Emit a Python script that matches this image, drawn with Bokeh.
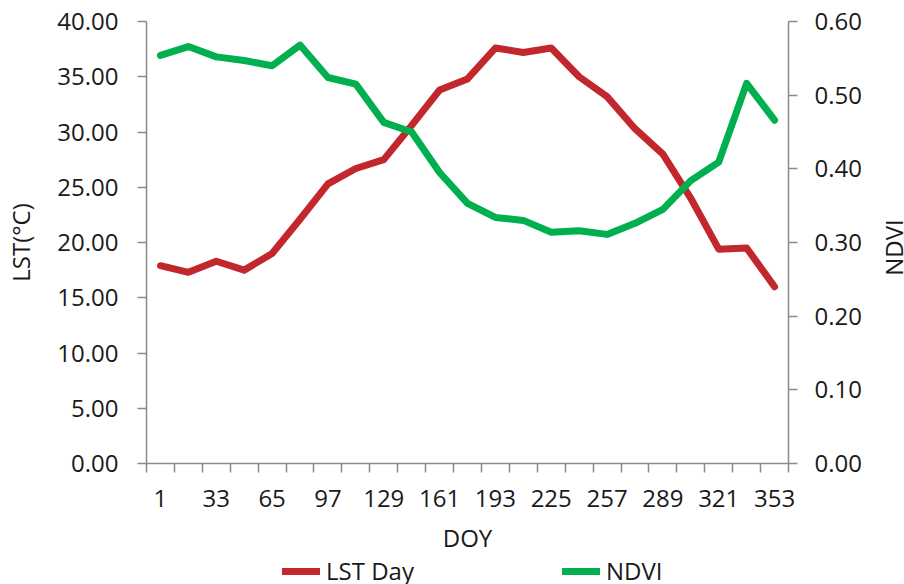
import math
from bokeh.plotting import figure
from bokeh.layouts import column, row
from bokeh.models import (Range1d, LinearAxis, FixedTicker, NumeralTickFormatter,
                          Legend, LegendItem, Label)
from bokeh.embed import file_html
from bokeh.resources import INLINE

# Day of year of each 16-day composite
doy = [1, 17, 33, 49, 65, 81, 97, 113, 129, 145, 161, 177, 193, 209, 225,
       241, 257, 273, 289, 305, 321, 337, 353]
# Daytime land surface temperature (°C)
lst_day = [17.9, 17.3, 18.3, 17.5, 19.0, 22.1, 25.3, 26.7, 27.5, 30.6, 33.8, 34.8,
           37.6, 37.2, 37.6, 35.0, 33.2, 30.3, 28.0, 24.0, 19.4, 19.5, 16.0]
# Normalized difference vegetation index
ndvi = [0.554, 0.566, 0.552, 0.547, 0.540, 0.568, 0.524, 0.515, 0.463, 0.450, 0.395,
        0.353, 0.334, 0.330, 0.314, 0.316, 0.311, 0.326, 0.345, 0.384, 0.409, 0.516, 0.466]

lst_ticks = [0, 5, 10, 15, 20, 25, 30, 35, 40]
ndvi_ticks = [0.0, 0.1, 0.2, 0.3, 0.4, 0.5, 0.6]

RED = "#c1272d"
GREEN = "#00b04f"
AXIS = "#8a8a8a"
TEXT = "#1a1a1a"
FONT = "Open Sans"
FS = "24px"

step = doy[1] - doy[0]
half = step / 2

p = figure(width=866, height=556, output_backend="svg", toolbar_location=None,
           x_range=Range1d(doy[0] - half, doy[-1] + half),
           y_range=Range1d(lst_ticks[0], lst_ticks[-1]),
           min_border_left=146, min_border_right=78,
           min_border_top=21, min_border_bottom=93)
p.extra_y_ranges = {"ndvi": Range1d(ndvi_ticks[0], ndvi_ticks[-1])}
p.xgrid.visible = False
p.ygrid.visible = False
p.outline_line_color = None
p.background_fill_color = "white"
p.border_fill_color = "white"

r_lst = p.line(doy, lst_day, line_color=RED, line_width=7,
               line_join="round", line_cap="round")
r_ndvi = p.line(doy, ndvi, line_color=GREEN, line_width=7,
                line_join="round", line_cap="round", y_range_name="ndvi")


def style_axis(ax):
    ax.axis_line_color = AXIS
    ax.axis_line_width = 1.5
    ax.major_tick_line_color = AXIS
    ax.major_tick_line_width = 1.5
    ax.minor_tick_line_color = AXIS
    ax.minor_tick_line_width = 1.5
    ax.major_label_text_font = FONT
    ax.major_label_text_font_size = FS
    ax.major_label_text_color = TEXT
    ax.axis_label_text_font = FONT
    ax.axis_label_text_font_size = FS
    ax.axis_label_text_font_style = "normal"
    ax.axis_label_text_color = TEXT


# x axis: category boundaries carry the tick marks, every other DOY is labelled
xa = p.xaxis[0]
boundaries = [d - half for d in doy] + [doy[-1] + half]
xa.ticker = FixedTicker(ticks=doy[::2], minor_ticks=boundaries)
xa.major_tick_in = 0
xa.major_tick_out = 0
xa.minor_tick_in = 0
xa.minor_tick_out = 9
xa.axis_label = "DOY"
xa.major_label_standoff = 17
xa.axis_label_standoff = 11
style_axis(xa)

ya = p.yaxis[0]
ya.ticker = FixedTicker(ticks=lst_ticks, minor_ticks=[])
ya.formatter = NumeralTickFormatter(format="0.00")
ya.major_tick_in = 0
ya.major_tick_out = 9
ya.major_label_standoff = 19
ya.axis_label = "LST(°C)"
ya.axis_label_standoff = 17
style_axis(ya)

yr = LinearAxis(y_range_name="ndvi")
yr.ticker = FixedTicker(ticks=ndvi_ticks, minor_ticks=[])
yr.formatter = NumeralTickFormatter(format="0.00")
yr.major_tick_in = 0
yr.major_tick_out = 9
yr.major_label_standoff = 17
style_axis(yr)
p.add_layout(yr, "right")

# narrow strip to the right holding the NDVI axis title, reading upwards
side = figure(width=38, height=556, output_backend="svg", toolbar_location=None,
              x_range=Range1d(0, 1), y_range=Range1d(0, 1),
              min_border=0, outline_line_color=None)
side.axis.visible = False
side.xgrid.visible = False
side.ygrid.visible = False
side.border_fill_color = "white"
side.background_fill_color = "white"
side.add_layout(Label(x=27, y=216, x_units="screen", y_units="screen",
                      text="NDVI", angle=math.pi / 2,
                      text_font=FONT, text_font_size=FS, text_color=TEXT,
                      text_align="center", text_baseline="middle"))

# legend strip underneath the chart
leg = figure(width=904, height=28, output_backend="svg", toolbar_location=None,
             x_range=Range1d(0, 1), y_range=Range1d(0, 1),
             min_border=0, outline_line_color=None)
leg.axis.visible = False
leg.xgrid.visible = False
leg.ygrid.visible = False
leg.border_fill_color = "white"
leg.background_fill_color = "white"
# off-range stand-ins that only lend their style to the legend keys
k_lst = leg.line([-5, -4], [-5, -4], line_color=RED, line_width=7, line_cap="round")
k_ndvi = leg.line([-5, -4], [-5, -4], line_color=GREEN, line_width=7, line_cap="round")


def make_legend(label, renderer, loc):
    return Legend(items=[LegendItem(label=label, renderers=[renderer])],
                  location=loc, orientation="horizontal",
                  glyph_width=38, glyph_height=20, label_standoff=6,
                  padding=0, margin=0, spacing=0,
                  background_fill_alpha=0, border_line_color=None,
                  label_text_font=FONT, label_text_font_size=FS,
                  label_text_color=TEXT)


leg.add_layout(make_legend("LST Day", k_lst, (282, -3)))
leg.add_layout(make_legend("NDVI", k_ndvi, (562, -3)))

layout = column(row(p, side, spacing=0), leg, spacing=0)
open("out.html", "w").write(file_html(layout, INLINE))
